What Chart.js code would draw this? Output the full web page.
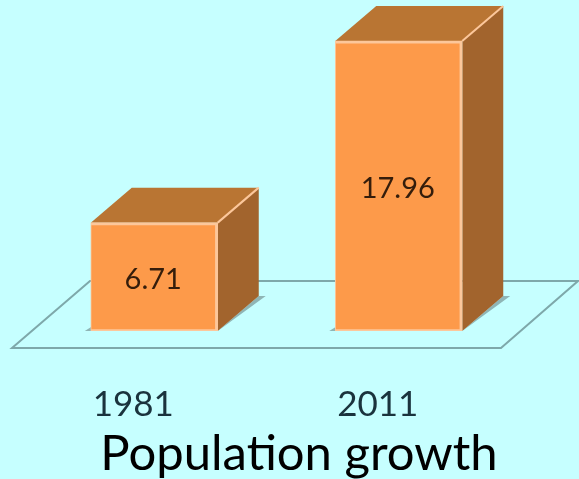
<!DOCTYPE html>
<html>
<head>
<meta charset="utf-8">
<title>Population growth</title>
<script src="https://cdn.jsdelivr.net/npm/chart.js@4"></script>
<style>
  html, body { margin: 0; padding: 0; background: #c6ffff; overflow: hidden; }
  canvas { display: block; }
</style>
</head>
<body>
<canvas id="barChart" width="579" height="479"></canvas>
<script>
const years = ["1981", "2011"];
const population = [6.71, 17.96];
const axisMax = 20;
const chartTitle = "Population growth";

// box depth in pixels, x to the right and y upwards
const depthX = 41;
const depthY = 35;

function poly(ctx, points, fill, stroke, width) {
  ctx.beginPath();
  points.forEach((p, i) => (i ? ctx.lineTo(p[0], p[1]) : ctx.moveTo(p[0], p[1])));
  ctx.closePath();
  if (fill) {
    ctx.fillStyle = fill;
    ctx.fill();
  }
  if (stroke) {
    ctx.strokeStyle = stroke;
    ctx.lineWidth = width || 1;
    ctx.stroke();
  }
}

// floor plate and the top/side faces go in behind the bars
const boxFaces = {
  id: "boxFaces",
  beforeDatasetsDraw(chart) {
    const { ctx, chartArea } = chart;
    const base = chartArea.bottom;
    ctx.save();

    poly(ctx, [
      [chartArea.left - 20, base + 17],
      [chartArea.right - 20, base + 17],
      [chartArea.right + 57, base - 50],
      [chartArea.left + 58, base - 50],
    ], null, "#7ea8aa", 2);

    chart.getDatasetMeta(0).data.forEach((bar) => {
      const half = bar.width / 2;
      const l = bar.x - half;
      const r = bar.x + half;
      const t = bar.y;

      // contact shadow
      poly(ctx, [[r, base], [r + depthX + 7, base - depthY], [r + depthX, base - depthY]], "#8fb5b5");
      poly(ctx, [[l - 6, base], [l + 2, base - 5], [l + 2, base]], "#8fb5b5");

      poly(ctx, [[r, t], [r + depthX, t - depthY], [r + depthX, base - depthY], [r, base]], "#a2642d");
      poly(ctx, [[l, t], [l + depthX, t - depthY], [r + depthX, t - depthY], [r, t]], "#b97533");

      ctx.beginPath();
      ctx.moveTo(r, t);
      ctx.lineTo(r + depthX, t - depthY);
      ctx.strokeStyle = "#fcc79b";
      ctx.lineWidth = 2;
      ctx.stroke();
    });
    ctx.restore();
  },
  afterDatasetsDraw(chart) {
    const { ctx } = chart;
    const base = chart.chartArea.bottom;
    ctx.save();
    ctx.font = "29px Lato";
    ctx.fillStyle = "#351d0b";
    ctx.textAlign = "center";
    ctx.textBaseline = "middle";
    chart.getDatasetMeta(0).data.forEach((bar, i) => {
      ctx.fillText(population[i].toFixed(2), bar.x - 1, (bar.y + base) / 2 + 3);
    });

    // title sits off the plot centre, so it is placed here
    ctx.font = "49px Lato";
    ctx.fillStyle = "#000000";
    ctx.textBaseline = "alphabetic";
    ctx.fillText(chartTitle, 299, 470);
    ctx.restore();
  },
};

const ctx = document.getElementById("barChart").getContext("2d");

new Chart(ctx, {
  type: "bar",
  data: {
    labels: years,
    datasets: [
      {
        data: population,
        backgroundColor: "#fd9a4a",
        borderColor: "#fcc79b",
        borderWidth: { top: 3, right: 3, bottom: 2, left: 1 },
        borderSkipped: false,
        barThickness: 127,
      },
    ],
  },
  options: {
    responsive: false,
    animation: false,
    layout: { padding: { left: 32, right: 58, top: 8, bottom: 0 } },
    plugins: {
      legend: { display: false },
      tooltip: { enabled: false },
    },
    scales: {
      x: {
        afterFit(scale) {
          scale.height = 148;
        },
        grid: { display: false, drawTicks: false },
        border: { display: false },
        ticks: {
          color: "#1a333d",
          font: { family: "Lato", size: 35 },
          padding: 53,
          labelOffset: -21,
          maxRotation: 0,
        },
      },
      y: {
        display: false,
        min: 0,
        max: axisMax,
      },
    },
  },
  plugins: [boxFaces],
});
</script>
</body>
</html>
